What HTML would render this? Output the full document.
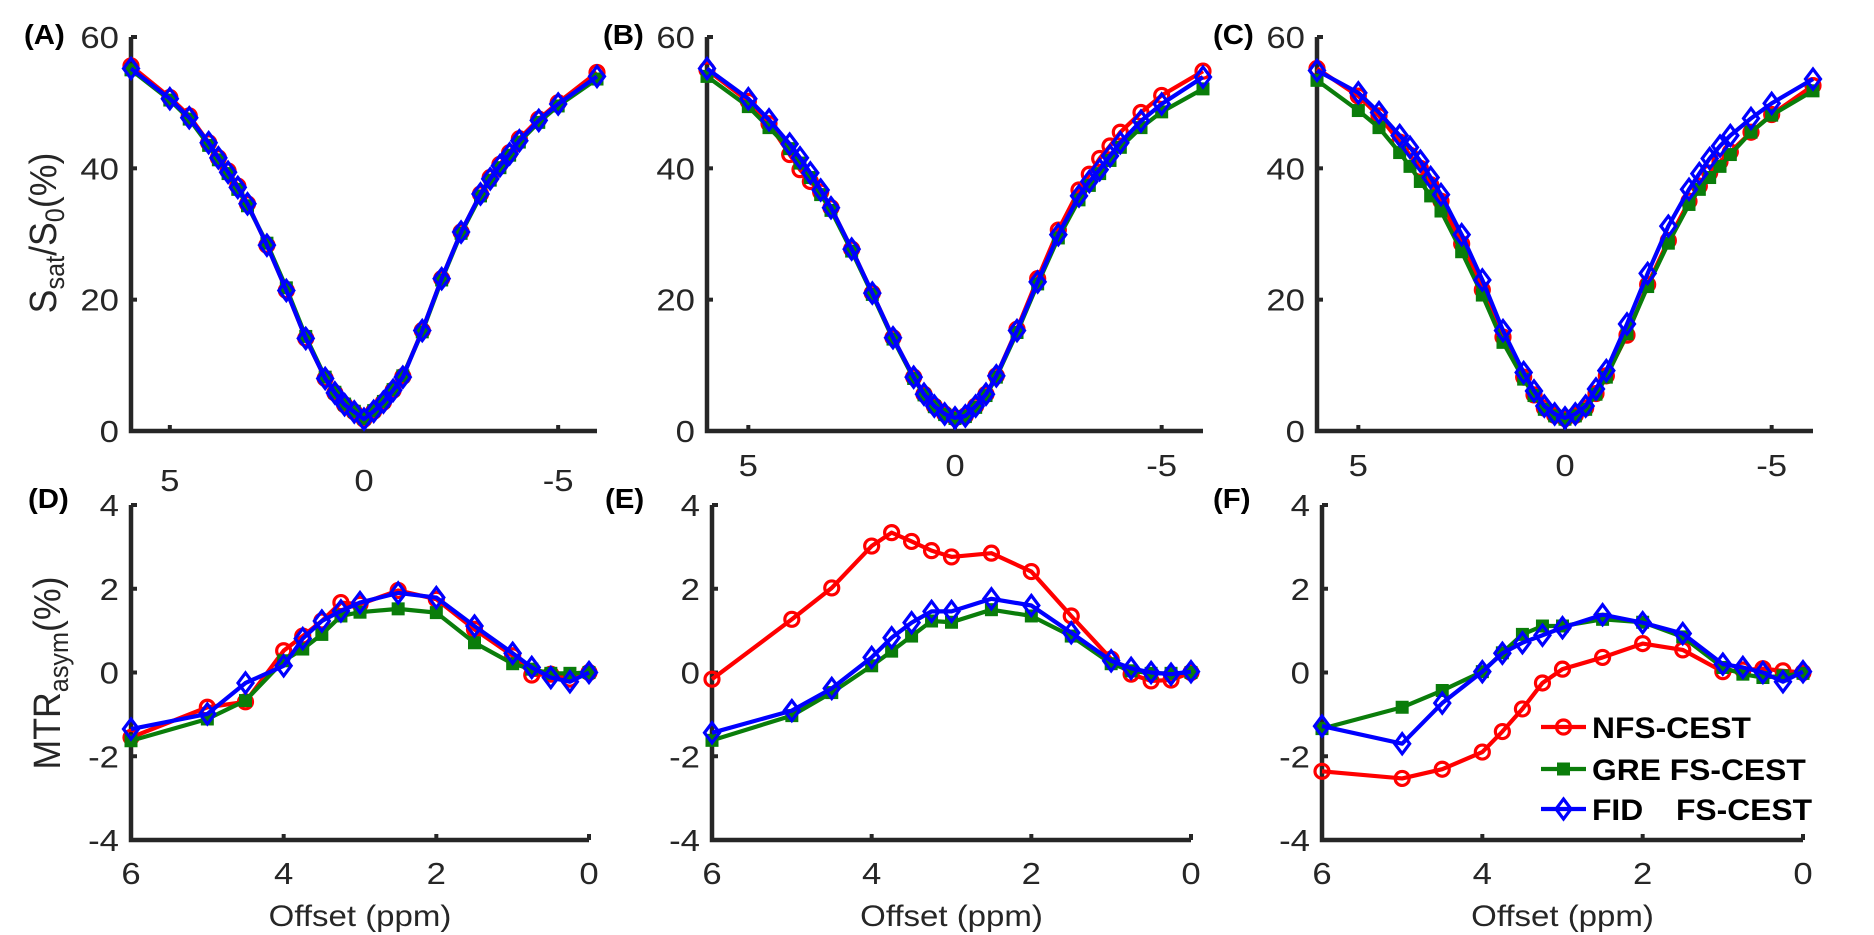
<!DOCTYPE html>
<html><head><meta charset="utf-8"><style>
html,body{margin:0;padding:0;background:#fff;}
svg{display:block;}
text{font-family:"Liberation Sans",Arial,sans-serif;fill:#262626;}
</style></head><body>
<svg id="fig" width="1874" height="935" viewBox="0 0 1874 935" xmlns="http://www.w3.org/2000/svg"></svg>
<script>
// ---------- data ----------
const zOffsets = [6,5,4.5,4,3.75,3.5,3.25,3,2.5,2,1.5,1,0.75,0.5,0.25,0,-0.25,-0.5,-0.75,-1,-1.5,-2,-2.5,-3,-3.25,-3.5,-3.75,-4,-4.5,-5,-6];
const aRed   = [55.6,50.8,48.0,43.9,41.6,39.6,37.3,34.6,28.3,21.4,14.1,8.0,5.8,4.0,2.9,1.8,3.0,4.4,6.2,8.3,15.3,23.2,30.3,36.1,38.6,40.6,42.4,44.5,47.5,50.0,54.6];
const aGreen = [55.0,50.4,47.5,43.5,41.3,39.2,36.8,34.3,28.6,21.8,14.4,8.2,5.9,4.1,3.0,1.9,3.1,4.5,6.3,8.4,15.1,23.0,30.1,35.8,38.2,40.1,42.0,44.0,47.0,49.5,53.6];
const aBlue  = [55.2,50.6,47.7,43.9,41.6,39.4,37.1,34.6,28.3,21.4,14.1,8.0,5.8,4.0,2.9,1.8,3.0,4.4,6.2,8.2,15.3,23.2,30.3,36.1,38.4,40.4,42.2,44.2,47.3,49.8,54.0];
const bRed   = [55.0,50.2,46.8,42.1,39.8,38.0,36.4,34.0,27.7,21.0,14.2,8.2,5.6,3.8,2.6,2.0,2.3,3.8,5.6,8.4,15.5,23.2,30.6,36.7,39.1,41.5,43.4,45.5,48.5,51.1,54.8];
const bGreen = [54.0,49.4,46.2,43.0,40.8,38.6,36.0,33.6,27.4,20.8,14.0,8.0,5.5,3.7,2.5,1.9,2.2,3.6,5.4,8.2,15.0,22.4,29.4,35.2,37.4,39.2,41.2,43.2,46.2,48.6,52.1];
const bBlue  = [55.2,50.6,47.4,43.7,41.6,39.3,36.7,34.0,27.7,21.0,14.2,8.2,5.6,3.8,2.6,2.0,2.3,3.8,5.6,8.4,15.3,22.7,29.9,35.8,38.0,39.8,41.9,43.9,47.2,49.8,53.9];
const cRed   = [55.2,51.0,48.0,44.0,42.0,40.0,37.5,35.0,28.5,21.5,14.3,8.2,5.5,3.5,2.4,1.9,2.4,3.5,5.7,8.4,14.6,22.3,29.0,35.0,37.3,39.3,41.0,42.5,45.5,48.2,52.6];
const cGreen = [53.4,48.8,46.2,42.4,40.3,38.0,35.8,33.5,27.3,20.7,13.5,7.9,5.4,3.3,2.3,1.8,2.3,3.3,5.6,8.2,14.8,22.0,28.6,34.5,36.8,38.6,40.3,42.1,45.5,48.1,51.8];
const cBlue  = [54.9,51.5,48.5,45.0,43.2,41.1,38.6,36.0,29.9,23.0,15.3,8.9,6.1,3.8,2.6,2.0,2.6,3.8,6.4,9.2,16.3,24.0,31.2,36.8,39.2,41.5,43.4,45.0,47.6,49.9,53.6];

const aOffsets = [6,5,4.5,4,3.75,3.5,3.25,3,2.5,2,1.5,1,0.75,0.5,0.25,0];
const dRed   = [-1.55,-0.83,-0.70,0.52,0.87,1.23,1.67,1.63,1.96,1.75,1.03,0.40,-0.06,-0.04,-0.16,0];
const dGreen = [-1.63,-1.11,-0.67,0.28,0.56,0.91,1.35,1.44,1.52,1.43,0.71,0.21,0.08,-0.02,-0.02,0];
const dBlue  = [-1.35,-0.99,-0.25,0.16,0.81,1.23,1.47,1.67,1.90,1.79,1.11,0.46,0.12,-0.12,-0.22,0];
const eRed   = [-0.16,1.27,2.02,3.02,3.34,3.13,2.91,2.76,2.85,2.41,1.35,0.32,-0.04,-0.20,-0.18,0];
const eGreen = [-1.62,-1.03,-0.48,0.16,0.51,0.87,1.23,1.20,1.50,1.35,0.87,0.21,0.04,-0.02,-0.02,0];
const eBlue  = [-1.44,-0.91,-0.38,0.36,0.83,1.19,1.46,1.46,1.76,1.60,0.95,0.28,0.10,0.00,-0.04,0.02];
const fRed   = [-2.36,-2.53,-2.31,-1.90,-1.41,-0.87,-0.25,0.08,0.36,0.69,0.54,0.02,0.06,0.09,0.04,0];
const fGreen = [-1.34,-0.83,-0.43,0.02,0.47,0.91,1.11,1.11,1.27,1.20,0.85,0.12,-0.04,-0.12,-0.08,-0.02];
const fBlue  = [-1.28,-1.70,-0.73,0.02,0.46,0.71,0.89,1.07,1.38,1.19,0.93,0.20,0.12,0.00,-0.22,0.02];

const zTicks = [60,40,20,0];
const zXTicks = [5,0,-5];
const zXTickLabels = ['5','0','-5'];
const aTicks = [4,2,0,-2,-4];
const aXTicks = [6,4,2,0];
const legendLabels = ['NFS-CEST','GRE FS-CEST','FID'];

// ---------- drawing ----------
const NS='http://www.w3.org/2000/svg';
const svg=document.getElementById('fig');
const RED='#ff0000', GREEN='#0a7d0a', BLUE='#0000ff', AX='#262626';
function mk(tag,attrs,parent){const e=document.createElementNS(NS,tag);for(const k in attrs)e.setAttribute(k,attrs[k]);(parent||svg).appendChild(e);return e;}
function txt(x,y,s,size,anchor,sx,bold,parent){
  const t=mk('text',{transform:`translate(${x},${y}) scale(${sx},1)`,'font-size':size,'text-anchor':anchor,'font-weight':bold?'bold':'normal'},parent);
  t.textContent=s;return t;
}
function drawMarker(parent,type,x,y,col){
  let m;
  if(type==='circle') m=mk('circle',{cx:x,cy:y,r:7,fill:'none',stroke:col,'stroke-width':3.2},parent);
  else if(type==='square') m=mk('rect',{x:x-6,y:y-6,width:12,height:12,fill:col,stroke:col,'stroke-width':1},parent);
  else m=mk('path',{d:`M${x},${y-10} L${x+7.5},${y} L${x},${y+10} L${x-7.5},${y} Z`,fill:'none',stroke:col,'stroke-width':3.2},parent);
  
  
}
function panel(cfg){
  const g=mk('g',{});
  
  
  const X=v=>cfg.x0+(cfg.xmax-v)/(cfg.xmax-cfg.xmin)*(cfg.x1-cfg.x0);
  const Y=v=>cfg.yb+(v-cfg.ymin)/(cfg.ymax-cfg.ymin)*(cfg.yt-cfg.yb);
  const ax=mk('path',{d:`M${cfg.x0},${cfg.yt} V${cfg.yb} H${cfg.x1}`,fill:'none',stroke:AX,'stroke-width':4.5},g);
  
  
  cfg.yticks.forEach(v=>{
    const tk=mk('line',{x1:cfg.x0,x2:cfg.x0+6,y1:Y(v),y2:Y(v),stroke:AX,'stroke-width':4},g);
    
    
    const tl=txt(cfg.x0-12,Y(v)+11,String(v),31,'end',1.12,false,g);
    
    
  });
  cfg.xticks.forEach((v,i)=>{
    const tk=mk('line',{x1:X(v),x2:X(v),y1:cfg.yb,y2:cfg.yb-6,stroke:AX,'stroke-width':4},g);
    
    
    const tl=txt(X(v),cfg.xlabY+11,cfg.xtickLabels[i],31,'middle',1.12,false,g);
    
    
  });
  const pl=txt(cfg.lx,cfg.ly,cfg.label,28,'start',1.05,true,g);
  
  
  pl.style.fill='#000';
  if(cfg.xtitle){
    const xt=txt((cfg.x0+cfg.x1)/2,cfg.yb+86,'Offset (ppm)',30,'middle',1.1,false,g);
    
    
  }
  const series=[[cfg.red,RED,'circle','nfs-cest-series'],[cfg.green,GREEN,'square','gre-fs-cest-series'],[cfg.blue,BLUE,'diamond','fid-fs-cest-series']];
  series.forEach(([vals,col,mkType,nm])=>{
    const sg=mk('g',{},g);
    
    
    const pts=vals.map((v,i)=>[X(cfg.xs[i]),Y(v)]);
    const ln=mk('polyline',{points:pts.map(p=>p.join(',')).join(' '),fill:'none',stroke:col,'stroke-width':4.2,'stroke-linejoin':'round'},sg);
    
    
    pts.forEach(p=>{drawMarker(sg,mkType,p[0],p[1],col);});
  });
}
const topCfg={xmin:-6,xmax:6,ymin:0,ymax:60,yt:37,yb:431,xs:zOffsets,yticks:zTicks,xticks:zXTicks,xtickLabels:zXTickLabels,ly:44};
panel(Object.assign({},topCfg,{name:'panel-a',x0:131,x1:597,xlabY:480,label:'(A)',lx:24,red:aRed,green:aGreen,blue:aBlue}));
panel(Object.assign({},topCfg,{name:'panel-b',x0:707,x1:1203,xlabY:465,label:'(B)',lx:603,red:bRed,green:bGreen,blue:bBlue}));
panel(Object.assign({},topCfg,{name:'panel-c',x0:1317,x1:1813,xlabY:465,label:'(C)',lx:1213,red:cRed,green:cGreen,blue:cBlue}));
const botCfg={xmin:0,xmax:6,ymin:-4,ymax:4,yt:505,yb:840,xs:aOffsets,yticks:aTicks,xticks:aXTicks,xtickLabels:aXTicks.map(String),xlabY:873,ly:508,xtitle:true};
panel(Object.assign({},botCfg,{name:'panel-d',x0:131,x1:589,label:'(D)',lx:28,red:dRed,green:dGreen,blue:dBlue}));
panel(Object.assign({},botCfg,{name:'panel-e',x0:712,x1:1191,label:'(E)',lx:605,red:eRed,green:eGreen,blue:eBlue}));
panel(Object.assign({},botCfg,{name:'panel-f',x0:1322,x1:1803,label:'(F)',lx:1213,red:fRed,green:fGreen,blue:fBlue}));

const yt1=mk('text',{transform:'translate(56,233) rotate(-90) scale(1.05,1.12)','font-size':34,'text-anchor':'middle'});


yt1.innerHTML='S<tspan font-size="24" dy="7">sat</tspan><tspan dy="-7">/S</tspan><tspan font-size="24" dy="7">0</tspan><tspan dy="-7">(%)</tspan>';
const yt2=mk('text',{transform:'translate(60,673) rotate(-90) scale(1.05,1.12)','font-size':34,'text-anchor':'middle'});


yt2.innerHTML='MTR<tspan font-size="24" dy="7">asym</tspan><tspan dy="-7">(%)</tspan>';

const lg=mk('g',{});


const legY=[727,769,809];
const legCols=[RED,GREEN,BLUE];
const legTypes=['circle','square','diamond'];
legendLabels.forEach((lab,i)=>{
  const ln=mk('line',{x1:1541,x2:1586,y1:legY[i],y2:legY[i],stroke:legCols[i],'stroke-width':4.2},lg);
  
  
  drawMarker(lg,legTypes[i],1563.5,legY[i],legCols[i]);
  const t=txt(1592,legY[i]+11,lab,30,'start',1.06,true,lg);
  
  
  t.style.fill='#000';
});
const t2=txt(1676,legY[2]+11,'FS-CEST',30,'start',1.06,true,lg);


t2.style.fill='#000';
</script>
</body></html>
